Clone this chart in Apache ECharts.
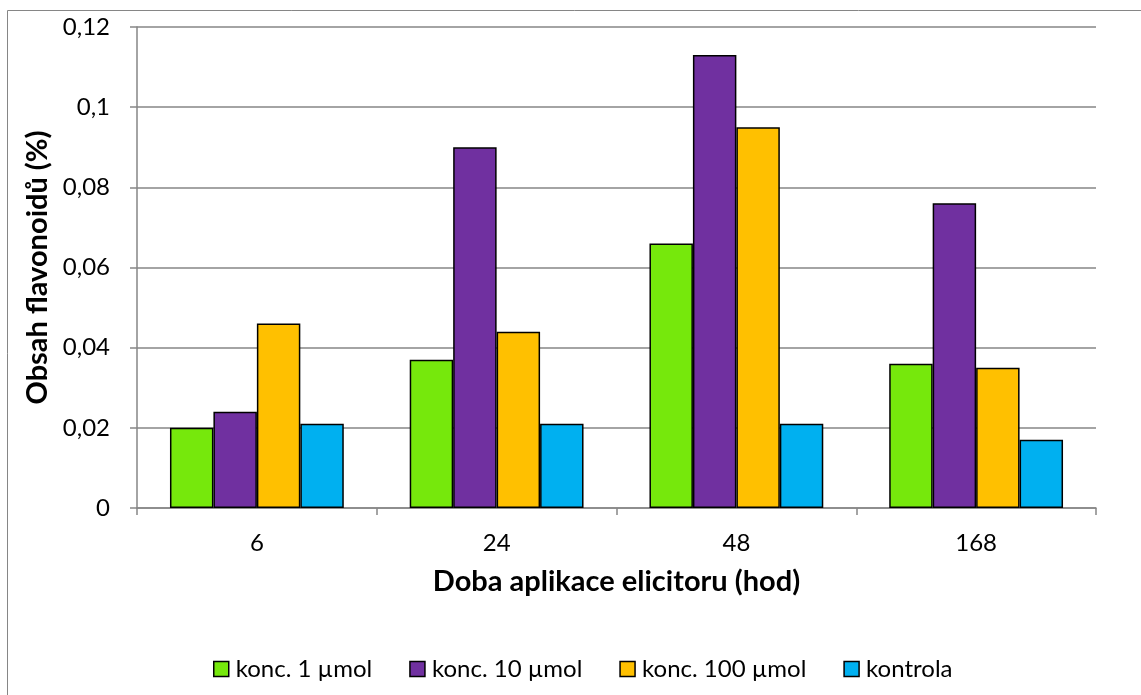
<!DOCTYPE html>
<html><head><meta charset="utf-8">
<script src="https://cdn.jsdelivr.net/npm/echarts@6/dist/echarts.min.js"></script>
<style>html,body{margin:0;padding:0;background:#fff}#c{width:1141px;height:695px}</style>
</head><body><div id="c"></div>
<script>
const categories = ['6', '24', '48', '168'];
const seriesNames = ['konc. 1 µmol', 'konc. 10 µmol', 'konc. 100 µmol', 'kontrola'];
const konc1 = [0.020, 0.037, 0.066, 0.036];
const konc10 = [0.024, 0.090, 0.113, 0.076];
const konc100 = [0.046, 0.044, 0.095, 0.035];
const kontrola = [0.021, 0.021, 0.021, 0.017];
const colors = ['#76E80C', '#7030A0', '#FFC000', '#00B0F0'];
const yTicks = [0, 0.02, 0.04, 0.06, 0.08, 0.1, 0.12];

const font = 'Lato, "Open Sans", sans-serif';
const values = [konc1, konc10, konc100, kontrola];
const chart = echarts.init(document.getElementById('c'));
chart.setOption({
  animation: false,
  color: colors,
  graphic: [{
    type: 'rect', silent: true, z: -10,
    shape: {x: 7.5, y: 10.5, width: 1200, height: 800},
    style: {fill: 'none', stroke: '#868686', lineWidth: 1}
  }],
  grid: {left: 137, right: 45, top: 27, bottom: 187, containLabel: false},
  legend: {
    top: 652, left: 208, itemWidth: 15, itemHeight: 15, itemGap: 37,
    icon: 'rect',
    itemStyle: {borderColor: '#000', borderWidth: 1.5},
    textStyle: {fontFamily: font, fontSize: 24, color: '#000', padding: [0,0,0,2]},
    data: seriesNames
  },
  xAxis: {
    type: 'category', data: categories,
    name: 'Doba aplikace elicitoru (hod)', nameLocation: 'middle', nameGap: 59,
    nameTextStyle: {fontFamily: font, fontSize: 29, fontWeight: 'bold', color: '#000'},
    axisLine: {lineStyle: {color: '#868686', width: 1.5}},
    axisTick: {show: true, length: 7, lineStyle: {color: '#868686', width: 1.5}},
    axisLabel: {fontFamily: font, fontSize: 24, color: '#000', margin: 23}
  },
  yAxis: {
    type: 'value', min: 0, max: yTicks[yTicks.length - 1], interval: yTicks[1] - yTicks[0],
    name: 'Obsah flavonoidů (%)', nameLocation: 'middle', nameGap: 85, nameRotate: 90,
    nameTextStyle: {fontFamily: font, fontSize: 29, fontWeight: 'bold', color: '#000'},
    axisLine: {show: true, lineStyle: {color: '#868686', width: 1.5}},
    axisTick: {show: true, length: 7, lineStyle: {color: '#868686', width: 1.5}},
    splitLine: {lineStyle: {color: '#868686', width: 1.5}},
    axisLabel: {fontFamily: font, fontSize: 24, color: '#000', margin: 27,
      formatter: v => String(+v.toFixed(2)).replace('.', ',')}
  },
  series: seriesNames.map((n, i) => ({
    name: n, type: 'bar', data: values[i],
    barGap: '0%', barCategoryGap: '27.5%',
    itemStyle: {color: colors[i], borderColor: '#000', borderWidth: 1.5}
  }))
});
</script></body></html>
